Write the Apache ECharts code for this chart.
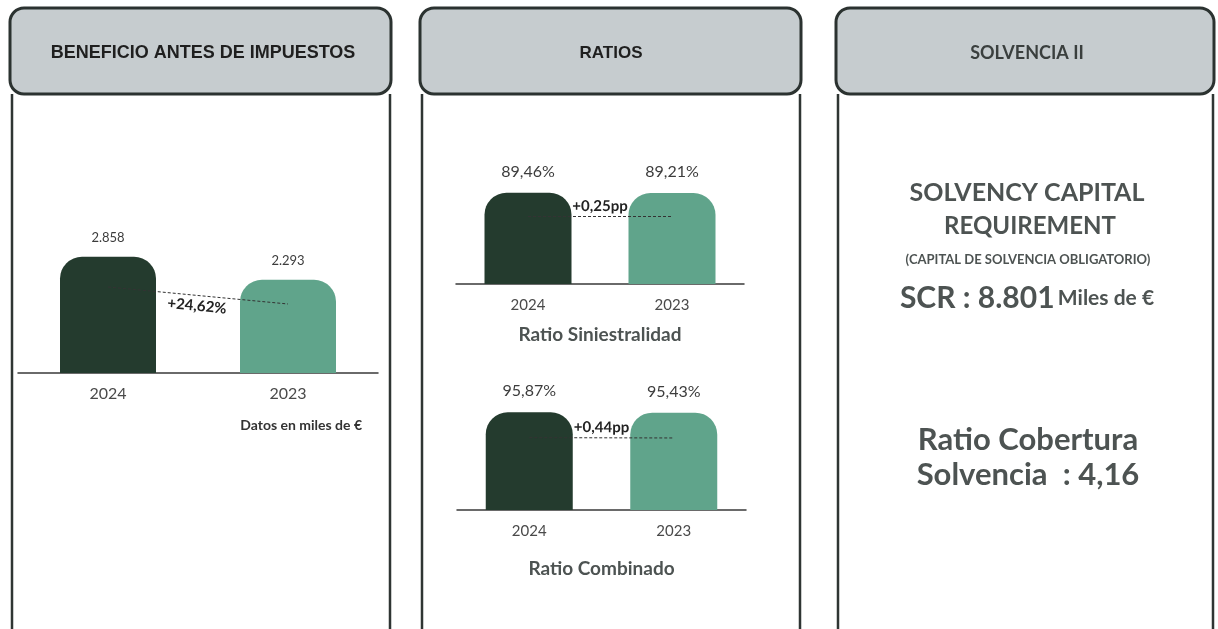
<!DOCTYPE html>
<html>
<head>
<meta charset="utf-8">
<script src="https://cdn.jsdelivr.net/npm/echarts@6/dist/echarts.min.js"></script>
<style>
  html, body { margin: 0; padding: 0; background: #fff; }
  #main { width: 1218px; height: 629px; }
</style>
</head>
<body>
<div id="main"></div>
<script>
// data
const years = ["2024", "2023"];
const beneficio = [2858, 2293];
const beneficioChange = "+24,62%";
const siniestralidad = [89.46, 89.21];
const siniestralidadChange = "+0,25pp";
const combinado = [95.87, 95.43];
const combinadoChange = "+0,44pp";
const scrValue = 8801;
const coberturaRatio = 4.16;

const barColors = ["#243b2e", "#60a48b"];
const textGray = "#4d5352";
const font = "Lato, sans-serif";
const headFont = "'Liberation Sans', Arial, sans-serif";
const markFrac = 0.74;

function miles(v) {
  return String(v).replace(/\B(?=(\d{3})+(?!\d))/g, ".");
}
function pct(v) {
  return v.toFixed(2).replace(".", ",") + "%";
}

var chartDom = document.getElementById("main");
var myChart = echarts.init(chartDom);

function xAxisFor(gridIndex, margin, size, name, nameGap, nameSize) {
  return {
    type: "category",
    gridIndex: gridIndex,
    data: years,
    axisLine: { lineStyle: { color: "#3a3a3a", width: 1.5 } },
    axisTick: { show: false },
    axisLabel: { margin: margin, fontSize: size, color: "#4a4a4a", fontFamily: font },
    name: name,
    nameLocation: "middle",
    nameGap: nameGap,
    nameTextStyle: { fontFamily: font, fontWeight: "bold", fontSize: nameSize, color: textGray },
  };
}

function barSeries(idx, values, barWidth, fmt, labelSize, labelDist, change, changePos) {
  return {
    type: "bar",
    xAxisIndex: idx,
    yAxisIndex: idx,
    barWidth: barWidth,
    data: values.map((v, i) => ({
      value: v,
      itemStyle: { color: barColors[i], borderRadius: [22, 22, 0, 0] },
    })),
    label: {
      show: true,
      position: "top",
      distance: labelDist,
      formatter: (p) => fmt(p.value),
      fontFamily: font,
      fontSize: labelSize,
      color: "#3c3c3c",
    },
    markLine: {
      silent: true,
      symbol: "none",
      lineStyle: { type: [3, 2], color: "#333", width: 1 },
      label: {
        show: true,
        position: changePos,
        formatter: change,
        fontFamily: font,
        fontWeight: "bold",
        fontSize: 15,
        color: "#222",
        distance: 3,
      },
      data: [[
        { coord: [0, values[0] * markFrac] },
        { coord: [1, values[1] * markFrac] },
      ]],
    },
  };
}

function panelFrame(x, w) {
  return [
    {
      type: "polyline",
      shape: { points: [[x + 2, 94], [x + 2, 640]] },
      style: { stroke: "#2f3533", lineWidth: 2.5, fill: null },
    },
    {
      type: "polyline",
      shape: { points: [[x + w - 1, 94], [x + w - 1, 640]] },
      style: { stroke: "#2f3533", lineWidth: 2.5, fill: null },
    },
    {
      type: "rect",
      shape: { x: x, y: 8, width: w, height: 86, r: 14 },
      style: { fill: "#c6cccf", stroke: "#2b3230", lineWidth: 3 },
    },
  ];
}

function txt(x, y, text, size, extra) {
  return {
    type: "text",
    x: x,
    y: y,
    style: Object.assign({
      text: text,
      align: "center",
      verticalAlign: "middle",
      font: "bold " + size + "px " + font,
      fill: textGray,
    }, extra || {}),
  };
}

var option;

option = {
  backgroundColor: "#fff",
  animation: false,
  grid: [
    { left: 18, width: 360, top: 251, height: 122 },
    { left: 456, width: 288, top: 182, height: 102 },
    { left: 457, width: 289, top: 408, height: 102 },
  ],
  xAxis: [
    xAxisFor(0, 13, 16, "", 0, 15),
    xAxisFor(1, 14, 15, "Ratio Siniestralidad", 41, 19),
    xAxisFor(2, 14, 15, "Ratio Combinado", 49, 19),
  ],
  yAxis: [
    { gridIndex: 0, show: false, min: 0, max: 3000 },
    { gridIndex: 1, show: false, min: 0, max: 100 },
    { gridIndex: 2, show: false, min: 0, max: 100 },
  ],
  series: [
    barSeries(0, beneficio, 96, miles, 13, 12, beneficioChange, "insideMiddleBottom"),
    barSeries(1, siniestralidad, 87, pct, 16, 13, siniestralidadChange, "insideMiddleTop"),
    barSeries(2, combinado, 87, pct, 16, 13, combinadoChange, "insideMiddleTop"),
  ],
  graphic: [].concat(
    panelFrame(10, 381),
    panelFrame(420, 381),
    panelFrame(836, 378),
    [
      txt(203, 53, "BENEFICIO ANTES DE IMPUESTOS", 18, { font: "bold 18px " + headFont, fill: "#1f1f1f" }),
      txt(611, 53, "RATIOS", 17, { font: "bold 17px " + headFont, fill: "#1f1f1f" }),
      txt(1027, 53, "SOLVENCIA II", 18, { fill: "#3a3f3e" }),
      txt(362, 425, "Datos en miles de €", 14, { align: "right", fill: "#333" }),
      txt(1027, 193, "SOLVENCY CAPITAL", 25),
      txt(1030, 226, "REQUIREMENT", 24),
      txt(1028, 260, "(CAPITAL DE SOLVENCIA OBLIGATORIO)", 13),
      {
        type: "text",
        x: 1027,
        y: 298,
        style: {
          text: "{a|SCR : " + miles(scrValue) + "} {b|Miles de €}",
          align: "center",
          verticalAlign: "middle",
          rich: {
            a: { fontFamily: font, fontWeight: "bold", fontSize: 30, fill: textGray, color: textGray },
            b: { fontFamily: font, fontWeight: "bold", fontSize: 21, fill: textGray, color: textGray },
          },
        },
      },
      txt(1028, 440, "Ratio Cobertura", 31),
      txt(1028, 475, "Solvencia  : " + String(coberturaRatio).replace(".", ","), 31),
    ]
  ),
};

option && myChart.setOption(option);
</script>
</body>
</html>
